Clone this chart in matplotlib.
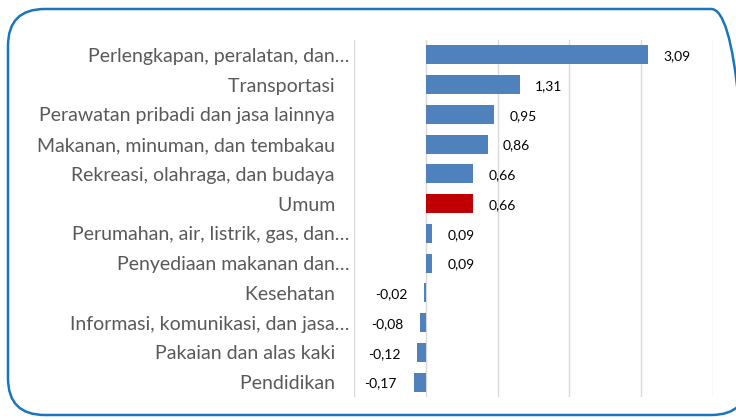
import matplotlib
matplotlib.use("Agg")
import matplotlib.pyplot as plt
from matplotlib.patches import FancyBboxPatch

categories = [
    "Perlengkapan, peralatan, dan…",
    "Transportasi",
    "Perawatan pribadi dan jasa lainnya",
    "Makanan, minuman, dan tembakau",
    "Rekreasi, olahraga, dan budaya",
    "Umum",
    "Perumahan, air, listrik, gas, dan…",
    "Penyediaan makanan dan…",
    "Kesehatan",
    "Informasi, komunikasi, dan jasa…",
    "Pakaian dan alas kaki",
    "Pendidikan",
]
values = [3.09, 1.31, 0.95, 0.86, 0.66, 0.66, 0.09, 0.09, -0.02, -0.08, -0.12, -0.17]
highlight = "Umum"

BLUE = "#4F81BD"
RED = "#C00000"

plt.rcParams["font.family"] = ["Lato", "DejaVu Sans"]

fig = plt.figure(figsize=(7.36, 4.2), dpi=100)
ax = fig.add_axes([354 / 736, 1 - 397 / 420, (713 - 354) / 736, (397 - 40) / 420])

# rounded frame around the chart
frame = FancyBboxPatch((8 / 736, 5 / 420), 740 / 736, 406 / 420,
                       boxstyle="round,pad=0,rounding_size=0.05",
                       transform=fig.transFigure, fill=False,
                       edgecolor="#1B75BC", linewidth=1.8, clip_on=False,
                       mutation_aspect=736 / 420)
fig.patches.append(frame)

ypos = list(range(len(categories)))
colors = [RED if c == highlight else BLUE for c in categories]
ax.barh(ypos, values, height=0.64, color=colors, zorder=3)

for y, v in zip(ypos, values):
    txt = f"{v:.2f}".replace(".", ",")
    if v >= 0:
        ax.annotate(txt, (v, y), xytext=(11, -1), textcoords="offset points",
                    ha="left", va="center", fontsize=10, color="black")
    else:
        ax.annotate(txt, (v, y), xytext=(-12, -1), textcoords="offset points",
                    ha="right", va="center", fontsize=10, color="black")

ax.set_xlim(-1, 4)
ax.set_ylim(len(categories) - 0.5, -0.5)
ax.set_xticks([-1, 0, 1, 2, 3, 4])
ax.set_xticklabels([])
ax.tick_params(axis="x", length=0)
ax.grid(axis="x", color="#D9D9D9", linewidth=1, zorder=0)

labels = [c if c.endswith("…") else c + "   " for c in categories]
ax.set_yticks(ypos)
ax.set_yticklabels(labels, fontsize=14, color="#595959")
ax.tick_params(axis="y", length=0, pad=3)

for s in ax.spines.values():
    s.set_visible(False)

fig.savefig("out.png", dpi=100)
